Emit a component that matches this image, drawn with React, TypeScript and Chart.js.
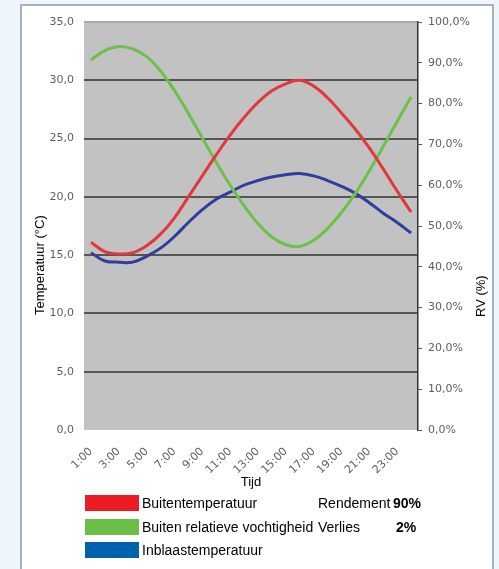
import React, { useEffect, useRef } from "react";
import { Chart, registerables } from "chart.js";

Chart.register(...registerables);

const hours = [
  "1:00", "2:00", "3:00", "4:00", "5:00", "6:00", "7:00", "8:00",
  "9:00", "10:00", "11:00", "12:00", "13:00", "14:00", "15:00", "16:00",
  "17:00", "18:00", "19:00", "20:00", "21:00", "22:00", "23:00", "24:00",
];

const buitenTemperatuur = [
  16.1, 15.3, 15.1, 15.2, 15.8, 16.8, 18.2, 20.0,
  21.8, 23.6, 25.3, 26.8, 28.1, 29.1, 29.7, 30.0,
  29.5, 28.5, 27.2, 25.8, 24.2, 22.4, 20.5, 18.7,
];

const buitenRV = [
  90.7, 93.0, 94.0, 93.4, 91.5, 88.0, 83.2, 77.6,
  71.6, 65.6, 60.0, 55.0, 50.6, 47.3, 45.4, 45.0,
  46.5, 49.4, 53.3, 58.0, 63.5, 69.5, 75.6, 81.6,
];

const inblaasTemperatuur = [
  15.2, 14.5, 14.4, 14.4, 14.9, 15.6, 16.6, 17.8,
  18.9, 19.8, 20.4, 21.0, 21.4, 21.7, 21.9, 22.0,
  21.8, 21.4, 20.9, 20.3, 19.5, 18.6, 17.8, 16.9,
];

const legendItems = [
  { label: "Buitentemperatuur", color: "#ed1c24" },
  { label: "Buiten relatieve vochtigheid", color: "#6abf4b" },
  { label: "Inblaastemperatuur", color: "#0061ad" },
];

const SANS = "'Liberation Sans', Arial, sans-serif";
const TICK_FONT = { family: "'DejaVu Sans', Verdana, sans-serif", size: 11 };

const plotBg = {
  id: "plotBg",
  beforeDraw(chart: any) {
    const { ctx, chartArea } = chart;
    ctx.save();
    ctx.fillStyle = "#c2c2c2";
    ctx.fillRect(chartArea.left, chartArea.top, chartArea.right - chartArea.left, chartArea.bottom - chartArea.top);
    ctx.restore();
  },
};

const axisTitles = {
  id: "axisTitles",
  afterDraw(chart: any) {
    const { ctx, chartArea } = chart;
    const h = chartArea.bottom - chartArea.top;
    ctx.save();
    ctx.fillStyle = "#000";
    ctx.font = `13px ${SANS}`;
    ctx.textAlign = "center";
    ctx.textBaseline = "middle";
    ctx.translate(chartArea.left - 44, chartArea.top + h * 0.596);
    ctx.rotate(-Math.PI / 2);
    ctx.fillText("Temperatuur (°C)", 0, 0);
    ctx.restore();
    ctx.save();
    ctx.fillStyle = "#000";
    ctx.font = `13px ${SANS}`;
    ctx.textAlign = "center";
    ctx.textBaseline = "middle";
    ctx.translate(chartArea.right + 63, chartArea.top + h * 0.672);
    ctx.rotate(-Math.PI / 2);
    ctx.fillText("RV (%)", 0, 0);
    ctx.restore();
  },
};

export default function App() {
  const ref = useRef<HTMLCanvasElement>(null);

  useEffect(() => {
    if (!ref.current) return;
    const chart = new Chart(ref.current, {
      type: "line",
      data: {
        labels: hours,
        datasets: [
          {
            label: "Buitentemperatuur",
            data: buitenTemperatuur,
            borderColor: "#e2383c",
            borderWidth: 3,
            pointRadius: 0,
            tension: 0.4,
            yAxisID: "y",
          },
          {
            label: "Buiten relatieve vochtigheid",
            data: buitenRV,
            borderColor: "#6cc04c",
            borderWidth: 3,
            pointRadius: 0,
            tension: 0.4,
            yAxisID: "y1",
          },
          {
            label: "Inblaastemperatuur",
            data: inblaasTemperatuur,
            borderColor: "#303d9c",
            borderWidth: 3,
            pointRadius: 0,
            tension: 0.4,
            yAxisID: "y",
          },
        ],
      },
      options: {
        responsive: false,
        animation: false,
        layout: { padding: { top: 22, bottom: 75, left: 0, right: 0 } },
        plugins: { legend: { display: false }, tooltip: { enabled: false } },
        scales: {
          x: {
            type: "category",
            offset: true,
            grid: { display: false },
            border: { display: false },
            ticks: {
              autoSkip: false,
              minRotation: 45,
              maxRotation: 45,
              color: "#5e5e5e",
              font: TICK_FONT,
              padding: 7,
              callback: (_v: any, i: number) => (i % 2 === 0 ? hours[i] : ""),
            },
            title: {
              display: true,
              text: "Tijd",
              color: "#000",
              font: { family: SANS, size: 13 },
              padding: { top: 4, bottom: 4 },
            },
            afterFit: (s: any) => {
              s.height = 64;
            },
          },
          y: {
            position: "left",
            min: 0,
            max: 35,
            border: { display: false },
            grid: {
              drawTicks: false,
              lineWidth: 2,
              color: (c: any) =>
                c.tick && c.tick.value === 0
                  ? "rgba(0,0,0,0)"
                  : c.tick && c.tick.value === 35
                  ? "#a9a9a9"
                  : "#555555",
            },
            ticks: {
              stepSize: 5,
              padding: 10,
              color: "#5e5e5e",
              font: TICK_FONT,
              callback: (v: any) => Number(v).toFixed(1).replace(".", ","),
            },
            afterFit: (s: any) => {
              s.width = 84;
            },
          },
          y1: {
            position: "right",
            min: 0,
            max: 100,
            border: { display: true, color: "#333", width: 1.5 },
            grid: { drawOnChartArea: false, tickLength: 4, color: "#555" },
            ticks: {
              stepSize: 10,
              padding: 6,
              color: "#5e5e5e",
              font: TICK_FONT,
              callback: (v: any) => Number(v).toFixed(1).replace(".", ",") + "%",
            },
            afterFit: (s: any) => {
              s.width = 81;
            },
          },
        },
      },
      plugins: [plotBg, axisTitles],
    });
    return () => chart.destroy();
  }, []);

  return (
    <div style={{ position: "fixed", inset: 0, background: "#eef5fc", fontFamily: SANS }}>
      <div
        style={{
          position: "absolute",
          left: 20,
          top: 4,
          width: 474,
          height: 620,
          boxSizing: "border-box",
          background: "#fff",
          border: "2px solid #a8b1bb",
        }}
      />
      <canvas ref={ref} width={499} height={569} style={{ position: "absolute", left: 0, top: 0 }} />
      {legendItems.map((it, i) => (
        <div
          key={it.label}
          style={{ position: "absolute", left: 85, top: 495 + i * 23.5, height: 16, display: "flex", alignItems: "center" }}
        >
          <div style={{ width: 54, height: 16, background: it.color }} />
          <div style={{ marginLeft: 3, fontSize: 14, color: "#000", whiteSpace: "nowrap" }}>{it.label}</div>
        </div>
      ))}
      <div style={{ position: "absolute", left: 318, top: 495, height: 16, lineHeight: "16px", fontSize: 14 }}>Rendement</div>
      <div style={{ position: "absolute", left: 393, top: 495, height: 16, lineHeight: "16px", fontSize: 14, fontWeight: "bold" }}>90%</div>
      <div style={{ position: "absolute", left: 318, top: 518.5, height: 16, lineHeight: "16px", fontSize: 14 }}>Verlies</div>
      <div style={{ position: "absolute", left: 396, top: 518.5, height: 16, lineHeight: "16px", fontSize: 14, fontWeight: "bold" }}>2%</div>
    </div>
  );
}
